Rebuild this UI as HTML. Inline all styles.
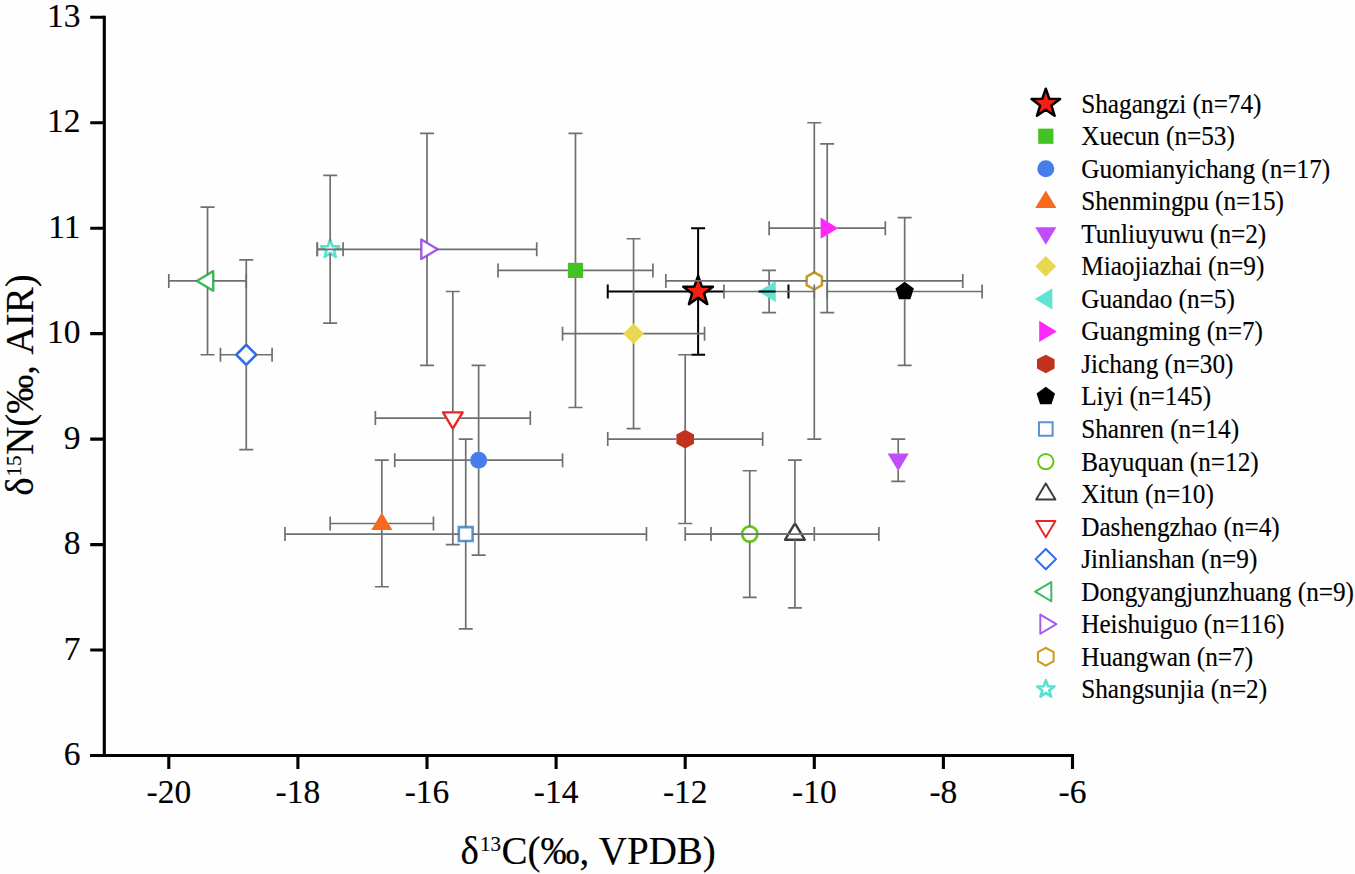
<!DOCTYPE html><html><head><meta charset="utf-8"><style>html,body{margin:0;padding:0;background:#fff;overflow:hidden}svg{display:block}text{font-family:"Liberation Serif",serif;fill:#000;stroke:#000;stroke-width:0.15px}</style></head><body>
<svg width="1355" height="874" viewBox="0 0 1355 874">
<rect width="1355" height="874" fill="#fefefe"/>
<polygon points="698.11,275.88 701.78,286.43 712.95,286.66 704.04,293.40 707.28,304.10 698.11,297.72 688.94,304.10 692.18,293.40 683.27,286.66 694.44,286.43" fill="#FA1E0F" stroke="#000" stroke-width="2.5" stroke-linejoin="round"/>
<polygon points="567.87,262.78 583.07,262.78 583.07,277.98 567.87,277.98" fill="#41C323"/>
<circle cx="478.64" cy="460.21" r="8.5" fill="#467DEB"/>
<polygon points="381.82,512.59 392.42,530.09 371.22,530.09" fill="#F56A1E"/>
<polygon points="898.21,471.11 908.81,453.61 887.61,453.61" fill="#C04CFA"/>
<polygon points="633.56,323.26 643.96,333.66 633.56,344.06 623.16,333.66" fill="#E8D750"/>
<polygon points="758.22,291.48 775.72,302.08 775.72,280.88" fill="#5FE4D2"/>
<polygon points="838.11,228.20 820.61,238.80 820.61,217.60" fill="#FF28FA"/>
<polygon points="685.20,429.82 694.00,434.47 694.00,443.77 685.20,448.42 676.40,443.77 676.40,434.47" fill="#C0321C"/>
<polygon points="904.67,281.78 913.90,288.48 910.37,299.32 898.97,299.32 895.44,288.48" fill="#000000"/>
<polygon points="458.83,527.13 472.63,527.13 472.63,540.93 458.83,540.93" fill="none" stroke="#5B93D3" stroke-width="2.6" stroke-linejoin="miter"/>
<circle cx="749.75" cy="534.03" r="7.65" fill="none" stroke="#66C814" stroke-width="2.7"/>
<polygon points="794.93,523.33 804.73,539.73 785.13,539.73" fill="none" stroke="#3C3C3C" stroke-width="2.4" stroke-linejoin="round"/>
<polygon points="452.82,428.73 462.62,412.33 443.02,412.33" fill="none" stroke="#EE2424" stroke-width="2.4" stroke-linejoin="round"/>
<polygon points="246.26,344.75 256.26,354.75 246.26,364.75 236.26,354.75" fill="none" stroke="#2D6EF0" stroke-width="2.5" stroke-linejoin="round"/>
<polygon points="196.83,280.93 213.23,290.73 213.23,271.13" fill="none" stroke="#3CB95A" stroke-width="2.4" stroke-linejoin="round"/>
<polygon points="437.70,249.29 421.30,259.09 421.30,239.49" fill="none" stroke="#A05AF0" stroke-width="2.4" stroke-linejoin="round"/>
<polygon points="814.30,272.38 821.95,276.66 821.95,285.20 814.30,289.48 806.65,285.20 806.65,276.66" fill="none" stroke="#C89B1E" stroke-width="2.5" stroke-linejoin="round"/>
<polygon points="330.18,239.89 332.50,246.10 339.11,246.39 333.93,250.51 335.70,256.90 330.18,253.24 324.65,256.90 326.42,250.51 321.24,246.39 327.85,246.10" fill="none" stroke="#5CE0D0" stroke-width="2.7" stroke-linejoin="round"/>
<defs>
<mask id="m0" maskUnits="userSpaceOnUse" x="0" y="0" width="1355" height="874"><rect width="1355" height="874" fill="#fff"/><polygon points="698.11,275.88 701.78,286.43 712.95,286.66 704.04,293.40 707.28,304.10 698.11,297.72 688.94,304.10 692.18,293.40 683.27,286.66 694.44,286.43" fill="#000"/></mask>
<mask id="m1" maskUnits="userSpaceOnUse" x="0" y="0" width="1355" height="874"><rect width="1355" height="874" fill="#fff"/><polygon points="567.87,262.78 583.07,262.78 583.07,277.98 567.87,277.98" fill="#000"/></mask>
<mask id="m2" maskUnits="userSpaceOnUse" x="0" y="0" width="1355" height="874"><rect width="1355" height="874" fill="#fff"/><circle cx="478.64" cy="460.21" r="8.5" fill="#000"/></mask>
<mask id="m3" maskUnits="userSpaceOnUse" x="0" y="0" width="1355" height="874"><rect width="1355" height="874" fill="#fff"/><polygon points="381.82,512.59 392.42,530.09 371.22,530.09" fill="#000"/></mask>
<mask id="m4" maskUnits="userSpaceOnUse" x="0" y="0" width="1355" height="874"><rect width="1355" height="874" fill="#fff"/><polygon points="898.21,471.11 908.81,453.61 887.61,453.61" fill="#000"/></mask>
<mask id="m5" maskUnits="userSpaceOnUse" x="0" y="0" width="1355" height="874"><rect width="1355" height="874" fill="#fff"/><polygon points="633.56,323.26 643.96,333.66 633.56,344.06 623.16,333.66" fill="#000"/></mask>
<mask id="m6" maskUnits="userSpaceOnUse" x="0" y="0" width="1355" height="874"><rect width="1355" height="874" fill="#fff"/><polygon points="758.22,291.48 775.72,302.08 775.72,280.88" fill="#000"/></mask>
<mask id="m7" maskUnits="userSpaceOnUse" x="0" y="0" width="1355" height="874"><rect width="1355" height="874" fill="#fff"/><polygon points="838.11,228.20 820.61,238.80 820.61,217.60" fill="#000"/></mask>
<mask id="m8" maskUnits="userSpaceOnUse" x="0" y="0" width="1355" height="874"><rect width="1355" height="874" fill="#fff"/><polygon points="685.20,429.82 694.00,434.47 694.00,443.77 685.20,448.42 676.40,443.77 676.40,434.47" fill="#000"/></mask>
<mask id="m9" maskUnits="userSpaceOnUse" x="0" y="0" width="1355" height="874"><rect width="1355" height="874" fill="#fff"/><polygon points="904.67,281.78 913.90,288.48 910.37,299.32 898.97,299.32 895.44,288.48" fill="#000"/></mask>
<mask id="m10" maskUnits="userSpaceOnUse" x="0" y="0" width="1355" height="874"><rect width="1355" height="874" fill="#fff"/><polygon points="458.83,527.13 472.63,527.13 472.63,540.93 458.83,540.93" fill="#000"/></mask>
<mask id="m11" maskUnits="userSpaceOnUse" x="0" y="0" width="1355" height="874"><rect width="1355" height="874" fill="#fff"/><circle cx="749.75" cy="534.03" r="7.65" fill="#000"/></mask>
<mask id="m12" maskUnits="userSpaceOnUse" x="0" y="0" width="1355" height="874"><rect width="1355" height="874" fill="#fff"/><polygon points="794.93,523.33 804.73,539.73 785.13,539.73" fill="#000"/></mask>
<mask id="m13" maskUnits="userSpaceOnUse" x="0" y="0" width="1355" height="874"><rect width="1355" height="874" fill="#fff"/><polygon points="452.82,428.73 462.62,412.33 443.02,412.33" fill="#000"/></mask>
<mask id="m14" maskUnits="userSpaceOnUse" x="0" y="0" width="1355" height="874"><rect width="1355" height="874" fill="#fff"/><polygon points="246.26,344.75 256.26,354.75 246.26,364.75 236.26,354.75" fill="#000"/></mask>
<mask id="m15" maskUnits="userSpaceOnUse" x="0" y="0" width="1355" height="874"><rect width="1355" height="874" fill="#fff"/><polygon points="196.83,280.93 213.23,290.73 213.23,271.13" fill="#000"/></mask>
<mask id="m16" maskUnits="userSpaceOnUse" x="0" y="0" width="1355" height="874"><rect width="1355" height="874" fill="#fff"/><polygon points="437.70,249.29 421.30,259.09 421.30,239.49" fill="#000"/></mask>
<mask id="m17" maskUnits="userSpaceOnUse" x="0" y="0" width="1355" height="874"><rect width="1355" height="874" fill="#fff"/><polygon points="814.30,272.38 821.95,276.66 821.95,285.20 814.30,289.48 806.65,285.20 806.65,276.66" fill="#000"/></mask>
<mask id="m18" maskUnits="userSpaceOnUse" x="0" y="0" width="1355" height="874"><rect width="1355" height="874" fill="#fff"/><polygon points="330.18,239.89 332.50,246.10 339.11,246.39 333.93,250.51 335.70,256.90 330.18,253.24 324.65,256.90 326.42,250.51 321.24,246.39 327.85,246.10" fill="#000"/></mask>
</defs>
<path d="M607.74 291.48L723.93 291.48M607.74 284.48L607.74 298.48M788.48 284.48L788.48 298.48M698.11 228.20L698.11 354.75M691.11 228.20L705.11 228.20M691.11 354.75L705.11 354.75M758.22 291.48L775.72 291.48" stroke="#000" stroke-width="2.0" fill="none" mask="url(#m0)"/>
<path d="M498.01 270.38L652.92 270.38M498.01 263.38L498.01 277.38M652.92 263.38L652.92 277.38M575.47 133.29L575.47 407.48M568.47 133.29L582.47 133.29M568.47 407.48L582.47 407.48" stroke="#6e7070" stroke-width="1.7" fill="none" mask="url(#m1)"/>
<path d="M394.73 460.21L562.56 460.21M394.73 453.21L394.73 467.21M562.56 453.21L562.56 467.21M478.64 365.30L478.64 555.13M471.64 365.30L485.64 365.30M471.64 555.13L485.64 555.13" stroke="#6e7070" stroke-width="1.7" fill="none" mask="url(#m2)"/>
<path d="M330.18 523.49L433.46 523.49M330.18 516.49L330.18 530.49M433.46 516.49L433.46 530.49M381.82 460.21L381.82 586.76M374.82 460.21L388.82 460.21M374.82 586.76L388.82 586.76" stroke="#6e7070" stroke-width="1.7" fill="none" mask="url(#m3)"/>
<path d="M898.21 439.12L898.21 481.30M891.21 439.12L905.21 439.12M891.21 481.30L905.21 481.30" stroke="#6e7070" stroke-width="1.7" fill="none" mask="url(#m4)"/>
<path d="M562.55 333.66L704.56 333.66M562.55 326.66L562.55 340.66M704.56 326.66L704.56 340.66M633.56 238.75L633.56 428.57M626.56 238.75L640.56 238.75M626.56 428.57L640.56 428.57" stroke="#6e7070" stroke-width="1.7" fill="none" mask="url(#m5)"/>
<path d="M723.93 291.48L814.30 291.48M723.93 284.48L723.93 298.48M814.30 284.48L814.30 298.48M769.12 270.38L769.12 312.57M762.12 270.38L776.12 270.38M762.12 312.57L776.12 312.57" stroke="#6e7070" stroke-width="1.7" fill="none" mask="url(#m6)"/>
<path d="M769.12 228.20L885.31 228.20M769.12 221.20L769.12 235.20M885.31 221.20L885.31 235.20M827.21 143.83L827.21 312.57M820.21 143.83L834.21 143.83M820.21 312.57L834.21 312.57" stroke="#6e7070" stroke-width="1.7" fill="none" mask="url(#m7)"/>
<path d="M607.74 439.12L762.66 439.12M607.74 432.12L607.74 446.12M762.66 432.12L762.66 446.12M685.20 354.75L685.20 523.49M678.20 354.75L692.20 354.75M678.20 523.49L692.20 523.49" stroke="#6e7070" stroke-width="1.7" fill="none" mask="url(#m8)"/>
<path d="M827.21 291.48L982.13 291.48M827.21 284.48L827.21 298.48M982.13 284.48L982.13 298.48M904.67 217.65L904.67 365.30M897.67 217.65L911.67 217.65M897.67 365.30L911.67 365.30" stroke="#6e7070" stroke-width="1.7" fill="none" mask="url(#m9)"/>
<path d="M284.99 534.03L646.47 534.03M284.99 527.03L284.99 541.03M646.47 527.03L646.47 541.03M465.73 439.12L465.73 628.95M458.73 439.12L472.73 439.12M458.73 628.95L472.73 628.95" stroke="#6e7070" stroke-width="1.7" fill="none" mask="url(#m10)"/>
<path d="M685.20 534.03L814.30 534.03M685.20 527.03L685.20 541.03M814.30 527.03L814.30 541.03M749.75 470.76L749.75 597.31M742.75 470.76L756.75 470.76M742.75 597.31L756.75 597.31" stroke="#6e7070" stroke-width="1.7" fill="none" mask="url(#m11)"/>
<path d="M711.02 534.03L878.85 534.03M711.02 527.03L711.02 541.03M878.85 527.03L878.85 541.03M794.93 460.21L794.93 607.86M787.93 460.21L801.93 460.21M787.93 607.86L801.93 607.86" stroke="#6e7070" stroke-width="1.7" fill="none" mask="url(#m12)"/>
<path d="M375.36 418.03L530.28 418.03M375.36 411.03L375.36 425.03M530.28 411.03L530.28 425.03M452.82 291.48L452.82 544.58M445.82 291.48L459.82 291.48M445.82 544.58L459.82 544.58" stroke="#6e7070" stroke-width="1.7" fill="none" mask="url(#m13)"/>
<path d="M220.44 354.75L272.08 354.75M220.44 347.75L220.44 361.75M272.08 347.75L272.08 361.75M246.26 259.84L246.26 449.67M239.26 259.84L253.26 259.84M239.26 449.67L253.26 449.67" stroke="#6e7070" stroke-width="1.7" fill="none" mask="url(#m14)"/>
<path d="M168.80 280.93L246.26 280.93M168.80 273.93L168.80 287.93M246.26 273.93L246.26 287.93M207.53 207.11L207.53 354.75M200.53 207.11L214.53 207.11M200.53 354.75L214.53 354.75" stroke="#6e7070" stroke-width="1.7" fill="none" mask="url(#m15)"/>
<path d="M317.27 249.29L536.73 249.29M317.27 242.29L317.27 256.29M536.73 242.29L536.73 256.29M427.00 133.29L427.00 365.30M420.00 133.29L434.00 133.29M420.00 365.30L434.00 365.30" stroke="#6e7070" stroke-width="1.7" fill="none" mask="url(#m16)"/>
<path d="M665.83 280.93L962.77 280.93M665.83 273.93L665.83 287.93M962.77 273.93L962.77 287.93M814.30 122.74L814.30 439.12M807.30 122.74L821.30 122.74M807.30 439.12L821.30 439.12" stroke="#6e7070" stroke-width="1.7" fill="none" mask="url(#m17)"/>
<path d="M317.27 249.29L343.08 249.29M317.27 242.29L317.27 256.29M343.08 242.29L343.08 256.29M330.18 175.47L330.18 323.11M323.18 175.47L337.18 175.47M323.18 323.11L337.18 323.11" stroke="#6e7070" stroke-width="1.7" fill="none" mask="url(#m18)"/>
<path d="M104.3 15.8L104.3 757M90.2 755.5L1074 755.5" stroke="#000" stroke-width="3.1" fill="none"/>
<path d="M90.2 755.50L104.3 755.50M90.2 650.04L104.3 650.04M90.2 544.58L104.3 544.58M90.2 439.12L104.3 439.12M90.2 333.66L104.3 333.66M90.2 228.20L104.3 228.20M90.2 122.74L104.3 122.74M90.2 17.28L104.3 17.28M168.80 755.5L168.80 769M297.90 755.5L297.90 769M427.00 755.5L427.00 769M556.10 755.5L556.10 769M685.20 755.5L685.20 769M814.30 755.5L814.30 769M943.40 755.5L943.40 769M1072.50 755.5L1072.50 769" stroke="#000" stroke-width="3.1" fill="none"/>
<text transform="translate(80.50,765.00) scale(1,1.03)" font-size="33.5" text-anchor="end">6</text>
<text transform="translate(80.50,659.54) scale(1,1.03)" font-size="33.5" text-anchor="end">7</text>
<text transform="translate(80.50,554.08) scale(1,1.03)" font-size="33.5" text-anchor="end">8</text>
<text transform="translate(80.50,448.62) scale(1,1.03)" font-size="33.5" text-anchor="end">9</text>
<text transform="translate(80.50,343.16) scale(1,1.03)" font-size="33.5" text-anchor="end">10</text>
<text transform="translate(80.50,237.70) scale(1,1.03)" font-size="33.5" text-anchor="end">11</text>
<text transform="translate(80.50,132.24) scale(1,1.03)" font-size="33.5" text-anchor="end">12</text>
<text transform="translate(80.50,26.78) scale(1,1.03)" font-size="33.5" text-anchor="end">13</text>
<text transform="translate(168.80,803.00) scale(1,1.03)" font-size="33.5" text-anchor="middle">-20</text>
<text transform="translate(297.90,803.00) scale(1,1.03)" font-size="33.5" text-anchor="middle">-18</text>
<text transform="translate(427.00,803.00) scale(1,1.03)" font-size="33.5" text-anchor="middle">-16</text>
<text transform="translate(556.10,803.00) scale(1,1.03)" font-size="33.5" text-anchor="middle">-14</text>
<text transform="translate(685.20,803.00) scale(1,1.03)" font-size="33.5" text-anchor="middle">-12</text>
<text transform="translate(814.30,803.00) scale(1,1.03)" font-size="33.5" text-anchor="middle">-10</text>
<text transform="translate(943.40,803.00) scale(1,1.03)" font-size="33.5" text-anchor="middle">-8</text>
<text transform="translate(1072.50,803.00) scale(1,1.03)" font-size="33.5" text-anchor="middle">-6</text>
<text font-size="39"><tspan x="460.4" y="863.5">δ</tspan><tspan x="479.9" y="850.8" font-size="21">13</tspan><tspan x="501.4" y="863.5">C(‰,</tspan><tspan x="598.8" y="863.5">VPDB)</tspan></text>
<g transform="translate(33.2,0) rotate(-90)"><text font-size="39"><tspan x="-495.8" y="0">δ</tspan><tspan x="-476.4" y="-12.7" font-size="21">15</tspan><tspan x="-454.8" y="0">N(‰,</tspan><tspan x="-354.5" y="0">AIR)</tspan></text></g>
<polygon points="1045.80,88.70 1049.33,98.85 1060.07,99.06 1051.51,105.55 1054.62,115.84 1045.80,109.70 1036.98,115.84 1040.09,105.55 1031.53,99.06 1042.27,98.85" fill="#FA1E0F" stroke="#000" stroke-width="2.5" stroke-linejoin="round"/>
<text transform="translate(1081.20,112.70) scale(1,1.055)" font-size="25.25" text-anchor="start">Shagangzi (n=74)</text>
<polygon points="1038.20,128.63 1053.40,128.63 1053.40,143.83 1038.20,143.83" fill="#41C323"/>
<text transform="translate(1081.20,145.23) scale(1,1.055)" font-size="25.25" text-anchor="start">Xuecun (n=53)</text>
<circle cx="1045.80" cy="168.76" r="8.5" fill="#467DEB"/>
<text transform="translate(1081.20,177.76) scale(1,1.055)" font-size="25.25" text-anchor="start">Guomianyichang (n=17)</text>
<polygon points="1045.80,190.39 1056.40,207.89 1035.20,207.89" fill="#F56A1E"/>
<text transform="translate(1081.20,210.29) scale(1,1.055)" font-size="25.25" text-anchor="start">Shenmingpu (n=15)</text>
<polygon points="1045.80,244.72 1056.40,227.22 1035.20,227.22" fill="#C04CFA"/>
<text transform="translate(1081.20,242.82) scale(1,1.055)" font-size="25.25" text-anchor="start">Tunliuyuwu (n=2)</text>
<polygon points="1045.80,255.95 1056.20,266.35 1045.80,276.75 1035.40,266.35" fill="#E8D750"/>
<text transform="translate(1081.20,275.35) scale(1,1.055)" font-size="25.25" text-anchor="start">Miaojiazhai (n=9)</text>
<polygon points="1034.90,298.88 1052.40,309.48 1052.40,288.28" fill="#5FE4D2"/>
<text transform="translate(1081.20,307.88) scale(1,1.055)" font-size="25.25" text-anchor="start">Guandao (n=5)</text>
<polygon points="1056.70,331.41 1039.20,342.01 1039.20,320.81" fill="#FF28FA"/>
<text transform="translate(1081.20,340.41) scale(1,1.055)" font-size="25.25" text-anchor="start">Guangming (n=7)</text>
<polygon points="1045.80,354.64 1054.60,359.29 1054.60,368.59 1045.80,373.24 1037.00,368.59 1037.00,359.29" fill="#C0321C"/>
<text transform="translate(1081.20,372.94) scale(1,1.055)" font-size="25.25" text-anchor="start">Jichang (n=30)</text>
<polygon points="1045.80,386.77 1055.03,393.47 1051.50,404.32 1040.10,404.32 1036.57,393.47" fill="#000000"/>
<text transform="translate(1081.20,405.47) scale(1,1.055)" font-size="25.25" text-anchor="start">Liyi (n=145)</text>
<polygon points="1038.97,422.18 1052.62,422.18 1052.62,435.82 1038.97,435.82" fill="none" stroke="#5B93D3" stroke-width="2.05" stroke-linejoin="miter"/>
<text transform="translate(1081.20,438.00) scale(1,1.055)" font-size="25.25" text-anchor="start">Shanren (n=14)</text>
<circle cx="1045.80" cy="461.53" r="7.65" fill="none" stroke="#66C814" stroke-width="2.0"/>
<text transform="translate(1081.20,470.53) scale(1,1.055)" font-size="25.25" text-anchor="start">Bayuquan (n=12)</text>
<polygon points="1045.80,483.46 1055.40,499.56 1036.20,499.56" fill="none" stroke="#3C3C3C" stroke-width="1.95" stroke-linejoin="round"/>
<text transform="translate(1081.20,503.06) scale(1,1.055)" font-size="25.25" text-anchor="start">Xitun (n=10)</text>
<polygon points="1045.80,537.19 1055.40,521.09 1036.20,521.09" fill="none" stroke="#EE2424" stroke-width="1.95" stroke-linejoin="round"/>
<text transform="translate(1081.20,535.59) scale(1,1.055)" font-size="25.25" text-anchor="start">Dashengzhao (n=4)</text>
<polygon points="1045.80,548.92 1056.00,559.12 1045.80,569.32 1035.60,559.12" fill="none" stroke="#2D6EF0" stroke-width="2.1" stroke-linejoin="round"/>
<text transform="translate(1081.20,568.12) scale(1,1.055)" font-size="25.25" text-anchor="start">Jinlianshan (n=9)</text>
<polygon points="1035.20,591.65 1051.30,601.25 1051.30,582.05" fill="none" stroke="#3CB95A" stroke-width="1.95" stroke-linejoin="round"/>
<text transform="translate(1081.20,600.65) scale(1,1.055)" font-size="25.25" text-anchor="start">Dongyangjunzhuang (n=9)</text>
<polygon points="1056.40,624.18 1040.30,633.78 1040.30,614.58" fill="none" stroke="#A05AF0" stroke-width="1.95" stroke-linejoin="round"/>
<text transform="translate(1081.20,633.18) scale(1,1.055)" font-size="25.25" text-anchor="start">Heishuiguo (n=116)</text>
<polygon points="1045.80,647.76 1053.65,652.24 1053.65,661.19 1045.80,665.66 1037.95,661.19 1037.95,652.24" fill="none" stroke="#C89B1E" stroke-width="2.0" stroke-linejoin="round"/>
<text transform="translate(1081.20,665.71) scale(1,1.055)" font-size="25.25" text-anchor="start">Huangwan (n=7)</text>
<polygon points="1045.80,680.14 1047.94,686.30 1054.45,686.43 1049.26,690.36 1051.15,696.60 1045.80,692.88 1040.45,696.60 1042.34,690.36 1037.15,686.43 1043.66,686.30" fill="none" stroke="#5CE0D0" stroke-width="2.6" stroke-linejoin="round"/>
<text transform="translate(1081.20,698.24) scale(1,1.055)" font-size="25.25" text-anchor="start">Shangsunjia (n=2)</text>
</svg></body></html>
